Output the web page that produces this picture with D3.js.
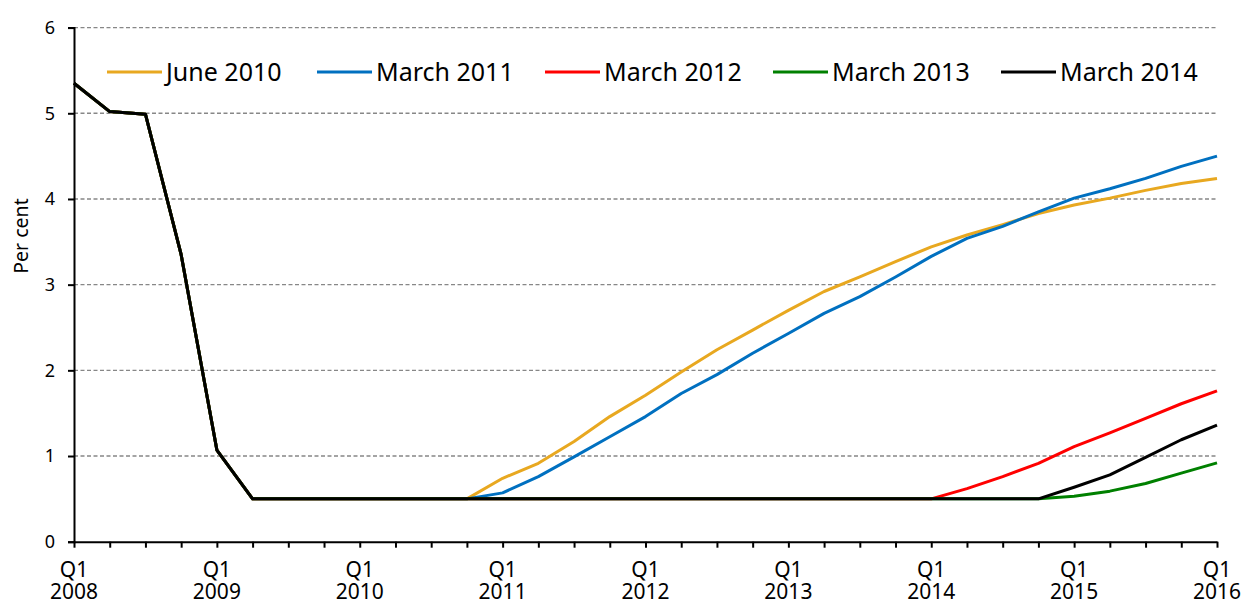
<!DOCTYPE html>
<html>
<head>
<meta charset="utf-8">
<script src="https://cdn.jsdelivr.net/npm/d3@7"></script>
<style>
  body { margin: 0; background: #fff; }
  svg { font-family: "Noto Sans", sans-serif; }
</style>
</head>
<body>
<div id="chart"></div>
<script>
// quarters Q1 2008 .. Q1 2016 (33 points)
let years = ["2008", "2009", "2010", "2011", "2012", "2013", "2014", "2015", "2016"];
let yTicks = [0, 1, 2, 3, 4, 5, 6];

let june2010 = [5.35, 5.02, 4.99, 3.35, 1.07, 0.5, 0.5, 0.5, 0.5, 0.5, 0.5, 0.5,
  0.74, 0.915, 1.17, 1.46, 1.71, 1.98, 2.24, 2.47, 2.70, 2.92, 3.09, 3.27,
  3.44, 3.58, 3.70, 3.83, 3.93, 4.01, 4.10, 4.18, 4.24];
let march2011 = [5.35, 5.02, 4.99, 3.35, 1.07, 0.5, 0.5, 0.5, 0.5, 0.5, 0.5, 0.5,
  0.57, 0.76, 0.99, 1.225, 1.46, 1.73, 1.95, 2.20, 2.43, 2.665, 2.86, 3.09,
  3.33, 3.54, 3.68, 3.85, 4.01, 4.12, 4.24, 4.38, 4.50];
let march2012 = [5.35, 5.02, 4.99, 3.35, 1.07, 0.5, 0.5, 0.5, 0.5, 0.5, 0.5, 0.5,
  0.5, 0.5, 0.5, 0.5, 0.5, 0.5, 0.5, 0.5, 0.5, 0.5, 0.5, 0.5,
  0.5, 0.62, 0.76, 0.915, 1.11, 1.27, 1.44, 1.61, 1.76];
let march2013 = [5.35, 5.02, 4.99, 3.35, 1.07, 0.5, 0.5, 0.5, 0.5, 0.5, 0.5, 0.5,
  0.5, 0.5, 0.5, 0.5, 0.5, 0.5, 0.5, 0.5, 0.5, 0.5, 0.5, 0.5,
  0.5, 0.5, 0.5, 0.5, 0.53, 0.59, 0.68, 0.80, 0.92];
let march2014 = [5.35, 5.02, 4.99, 3.35, 1.07, 0.5, 0.5, 0.5, 0.5, 0.5, 0.5, 0.5,
  0.5, 0.5, 0.5, 0.5, 0.5, 0.5, 0.5, 0.5, 0.5, 0.5, 0.5, 0.5,
  0.5, 0.5, 0.5, 0.5, 0.635, 0.78, 0.985, 1.19, 1.36];

let seriesNames = ["June 2010", "March 2011", "March 2012", "March 2013", "March 2014"];
let seriesColors = ["#E8A820", "#0070C0", "#FF0000", "#008000", "#000000"];
let seriesValues = [june2010, march2011, march2012, march2013, march2014];

let width = 1242;
let height = 602;
let margin = { top: 27.6, right: 25, bottom: 60.3, left: 74 };

var svg = d3.select("#chart")
  .append("svg")
  .attr("width", width)
  .attr("height", height);

var x = d3.scaleLinear()
  .domain([0, 32])
  .range([margin.left, width - margin.right]);

var y = d3.scaleLinear()
  .domain([0, 6])
  .range([height - margin.bottom, margin.top]);

// dashed gridlines
svg.selectAll("line.grid")
  .data(yTicks.slice(1))
  .enter()
  .append("line")
  .attr("class", "grid")
  .attr("x1", x(0))
  .attr("x2", x(32))
  .attr("y1", d => y(d))
  .attr("y2", d => y(d))
  .attr("stroke", "#878787")
  .attr("stroke-width", 1.4)
  .attr("stroke-dasharray", "4,2.5");

// lines
var line = d3.line()
  .x((d, i) => x(i))
  .y(d => y(d));

svg.selectAll("path.series")
  .data(seriesValues)
  .enter()
  .append("path")
  .attr("class", "series")
  .attr("d", d => line(d))
  .attr("fill", "none")
  .attr("stroke", (d, i) => seriesColors[i])
  .attr("stroke-width", 3)
  .attr("stroke-linejoin", "round");

// y axis
var yAxis = svg.append("g")
  .attr("transform", "translate(" + margin.left + ",0)")
  .call(d3.axisLeft(y).tickValues(yTicks).tickSize(6).tickPadding(13).tickFormat(d3.format("d")));
yAxis.select(".domain").attr("stroke", "#000").attr("stroke-width", 2);
yAxis.selectAll(".tick line").attr("stroke", "#000").attr("stroke-width", 2);
yAxis.selectAll(".tick text")
  .attr("font-size", "18px")
  .attr("fill", "#000")
  .attr("font-family", "Noto Sans");

// x axis: a tick each quarter, label at each Q1
var xAxis = svg.append("g")
  .attr("transform", "translate(0," + y(0) + ")")
  .call(d3.axisBottom(x).tickValues(d3.range(0, 33)).tickSize(6).tickSizeOuter(0).tickFormat(""));
xAxis.select(".domain").attr("stroke", "#000").attr("stroke-width", 2);
xAxis.selectAll(".tick line").attr("stroke", "#000").attr("stroke-width", 2);

var xLabels = svg.append("g");
xLabels.selectAll("text.q")
  .data(years)
  .enter()
  .append("text")
  .attr("class", "q")
  .attr("x", (d, i) => x(i * 4))
  .attr("y", 577)
  .attr("text-anchor", "middle")
  .attr("font-size", "21px")
  .attr("fill", "#000")
  .text("Q1");
xLabels.selectAll("text.yr")
  .data(years)
  .enter()
  .append("text")
  .attr("class", "yr")
  .attr("x", (d, i) => x(i * 4))
  .attr("y", 599)
  .attr("text-anchor", "middle")
  .attr("font-size", "21px")
  .attr("fill", "#000")
  .text(d => d);

// y axis title
svg.append("text")
  .attr("transform", "translate(28,236) rotate(-90)")
  .attr("text-anchor", "middle")
  .attr("font-size", "19.5px")
  .attr("fill", "#000")
  .text("Per cent");

// legend
var legendX = [107, 317, 545, 773, 1001];
var legend = svg.selectAll("g.legend")
  .data(seriesNames)
  .enter()
  .append("g")
  .attr("class", "legend")
  .attr("transform", (d, i) => "translate(" + legendX[i] + ",72)");
legend.append("line")
  .attr("x1", 0)
  .attr("x2", 55)
  .attr("stroke", (d, i) => seriesColors[i])
  .attr("stroke-width", 3);
legend.append("text")
  .attr("x", 59)
  .attr("dy", "0.36em")
  .attr("font-size", "25px")
  .attr("fill", "#000")
  .text(d => d);
</script>
</body>
</html>
